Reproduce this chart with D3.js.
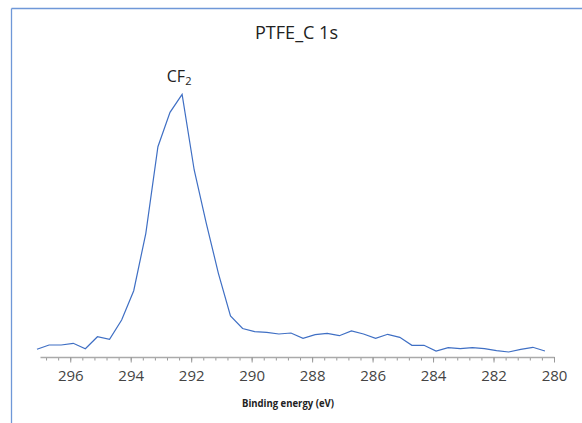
<!DOCTYPE html>
<html>
<head>
<meta charset="utf-8">
<script src="https://cdn.jsdelivr.net/npm/d3@7/dist/d3.min.js"></script>
<style>
  html, body { margin: 0; padding: 0; background: #fff; }
  svg { display: block; }
</style>
</head>
<body>
<svg id="chart" width="582" height="423"></svg>
<script>
// ---- data ----
const energies = [297.1, 296.7, 296.3, 295.9, 295.5, 295.1, 294.7, 294.3, 293.9, 293.5,
  293.1, 292.7, 292.3, 291.9, 291.5, 291.1, 290.7, 290.3, 289.9, 289.5,
  289.1, 288.7, 288.3, 287.9, 287.5, 287.1, 286.7, 286.3, 285.9, 285.5,
  285.1, 284.7, 284.3, 283.9, 283.5, 283.1, 282.7, 282.3, 281.9, 281.5,
  281.1, 280.7, 280.3];
const intensity = [77, 120, 120, 137, 83, 203, 177, 370, 663, 1237,
  2103, 2447, 2627, 1870, 1337, 837, 410, 285, 253, 247,
  230, 240, 187, 223, 237, 213, 260, 230, 187, 227,
  197, 117, 117, 60, 93, 83, 93, 83, 63, 50,
  77, 97, 60];
const majorTicks = [296, 294, 292, 290, 288, 286, 284, 282, 280];
const titleText = "PTFE_C 1s";
const xLabel = "Binding energy (eV)";
const peakLabel = { main: "CF", sub: "2", energy: 292.3 };

// ---- drawing ----
const svg = d3.select("#chart");
const font = "'Open Sans', 'Noto Sans', sans-serif";

const x = d3.scaleLinear().domain([297, 280]).range([40, 554]);
const y = d3.scaleLinear().domain([0, 3000]).range([357, 57]);

// frame lines (top and left)
svg.append("line").attr("x1", 11.5).attr("x2", 582).attr("y1", 8.5).attr("y2", 8.5)
  .attr("stroke", "#6f98d8").attr("stroke-width", 1.3);
svg.append("line").attr("x1", 11.5).attr("x2", 11.5).attr("y1", 8.5).attr("y2", 423)
  .attr("stroke", "#6f98d8").attr("stroke-width", 1.3);

// minor ticks
const minorTicks = d3.range(0, 43).map(i => +(280 + i * 0.4).toFixed(1));
const gMinor = svg.append("g").attr("transform", "translate(0,357)")
  .call(d3.axisBottom(x).tickValues(minorTicks).tickSize(3.5).tickSizeOuter(0).tickFormat(""));
gMinor.select(".domain").remove();
gMinor.selectAll(".tick line").attr("stroke", "#999").attr("stroke-width", 1);

// major ticks + labels + domain
const gMajor = svg.append("g").attr("transform", "translate(0,357)")
  .call(d3.axisBottom(x).tickValues(majorTicks).tickSize(5.5).tickSizeOuter(0).tickPadding(8).tickFormat(d3.format("d")));
gMajor.select(".domain").attr("stroke", "#aaa").attr("stroke-width", 1.5);
gMajor.selectAll(".tick line").attr("stroke", "#999").attr("stroke-width", 1);
gMajor.selectAll(".tick text")
  .attr("font-family", font).attr("font-size", 15).attr("fill", "#444")
  .attr("dy", "0.71em");

// x axis title
svg.append("text").attr("x", 288).attr("y", 406.5)
  .attr("text-anchor", "middle").attr("font-family", font)
  .attr("font-weight", "bold").attr("font-size", 11).attr("fill", "#222")
  .attr("textLength", 92).attr("lengthAdjust", "spacingAndGlyphs")
  .text(xLabel);

// title
svg.append("text").attr("x", 296.5).attr("y", 38.5)
  .attr("text-anchor", "middle").attr("font-family", font)
  .attr("font-size", 19).attr("fill", "#222")
  .attr("textLength", 83).attr("lengthAdjust", "spacingAndGlyphs")
  .text(titleText);

// spectrum line
const line = d3.line().x((d, i) => x(energies[i])).y(d => y(d));
svg.append("path").datum(intensity)
  .attr("d", line).attr("fill", "none")
  .attr("stroke", "#3f6fc4").attr("stroke-width", 1.2)
  .attr("stroke-linejoin", "miter");

// peak label
const pl = svg.append("text").attr("x", x(peakLabel.energy) - 3).attr("y", 82)
  .attr("text-anchor", "middle").attr("font-family", font)
  .attr("font-size", 16).attr("fill", "#222");
pl.append("tspan").text(peakLabel.main);
pl.append("tspan").attr("font-size", 11).attr("dy", 3).text(peakLabel.sub);
</script>
</body>
</html>
